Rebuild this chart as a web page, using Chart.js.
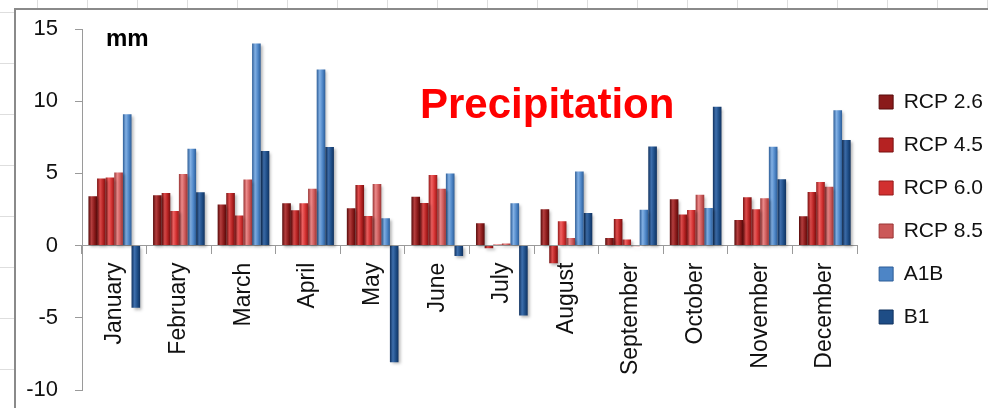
<!DOCTYPE html>
<html lang="en">
<head>
<meta charset="UTF-8">
<title>Precipitation</title>
<script src="https://cdn.jsdelivr.net/npm/chart.js@4.4.1/dist/chart.umd.min.js"></script>
<style>
    html, body { margin: 0; padding: 0; }
    body {
        width: 988px; height: 408px; overflow: hidden; position: relative;
        background-color: #fff;
        background-image: linear-gradient(to right, #dedede 1px, transparent 1px),
                          linear-gradient(to bottom, #dedede 1px, transparent 1px);
        background-size: 50px 51px;
        background-position: 37px 12px;
    }
    .frame {
        position: absolute; left: 14px; top: 8px; width: 1000px; height: 420px;
        background: #fff; border-left: 2px solid #8a8a8a; border-top: 2px solid #8a8a8a;
    }
    #wrap { position: absolute; left: 0; top: 0; width: 993px; height: 408px; }
</style>
</head>
<body>
<div class="frame"></div>
<div id="wrap"><canvas id="precip"></canvas></div>

<script>
// data (mm)
const months = ["January", "February", "March", "April", "May", "June",
                "July", "August", "September", "October", "November", "December"];
const rcp26 = [3.41, 3.48, 2.84, 2.93, 2.58, 3.39, 1.55, 2.51, 0.53, 3.21, 1.78, 2.03];
const rcp45 = [4.64, 3.64, 3.64, 2.45, 4.20, 2.95, -0.18, -1.22, 1.85, 2.15, 3.34, 3.71];
const rcp60 = [4.71, 2.40, 2.08, 2.93, 2.05, 4.89, 0.07, 1.68, 0.42, 2.47, 2.51, 4.41];
const rcp85 = [5.07, 4.96, 4.57, 3.94, 4.27, 3.94, 0.14, 0.53, -0.05, 3.53, 3.28, 4.08];
const a1b   = [9.09, 6.71, 14.0, 12.2, 1.89, 5.00, 2.93, 5.14, 2.49, 2.61, 6.85, 9.37];
const b1    = [-4.31, 3.69, 6.55, 6.83, -8.07, -0.72, -4.84, 2.26, 6.87, 9.62, 4.59, 7.31];
const yTicks = [-10, -5, 0, 5, 10, 15];

const catPct = 0.8;
const seriesCount = 6;

// colour sets: [base, light, dark]
const shades = [
    ["#8a1a1a", "#b43e3e", "#560a0a"],
    ["#b52222", "#de4c4c", "#781010"],
    ["#d23030", "#f06262", "#951a1a"],
    ["#cb5858", "#ec8a8a", "#9a3434"],
    ["#4d85c6", "#82b0e4", "#2d5d97"],
    ["#1e4d86", "#3e6fad", "#11325f"]
];

// cylinder-ish shading across each bar, placed through the x scale
function barFill(set) {
    return function (ctx) {
        const chart = ctx.chart;
        const xs = chart.scales.x;
        if (ctx.type !== 'data' || !xs || !xs.width) return set[0];
        const catW = xs.width / months.length;
        const barW = catW * catPct / seriesCount;
        const left = xs.getPixelForValue(ctx.dataIndex) - catW * catPct / 2 + ctx.datasetIndex * barW;
        const g = chart.ctx.createLinearGradient(left, 0, left + barW, 0);
        g.addColorStop(0, set[2]);
        g.addColorStop(0.35, set[1]);
        g.addColorStop(0.7, set[0]);
        g.addColorStop(1, set[2]);
        return g;
    };
}

const names = ["RCP 2.6", "RCP 4.5", "RCP 6.0", "RCP 8.5", "A1B", "B1"];
const series = [rcp26, rcp45, rcp60, rcp85, a1b, b1];

const datasets = series.map(function (vals, i) {
    return {
        label: names[i],
        data: vals,
        backgroundColor: barFill(shades[i]),
        borderWidth: 0,
        categoryPercentage: catPct,
        barPercentage: 1.0
    };
});

// soft drop shadow under the bars
const shadowPlugin = {
    id: 'shadowPlugin',
    beforeDatasetsDraw: function (chart) {
        const c = chart.ctx;
        c.save();
        c.shadowColor = 'rgba(0,0,0,0.28)';
        c.shadowOffsetX = 2;
        c.shadowOffsetY = 2;
        c.shadowBlur = 3;
    },
    afterDatasetsDraw: function (chart) {
        chart.ctx.restore();
    }
};

// title text drawn inside the plot
const textPlugin = {
    id: 'textPlugin',
    afterDraw: function (chart) {
        const c = chart.ctx;
        c.save();
        c.fillStyle = '#ff0000';
        c.font = 'bold 42px "Liberation Sans", Arial, sans-serif';
        c.textBaseline = 'alphabetic';
        c.textAlign = 'left';
        c.fillText('Precipitation', 420, 118);
        c.fillStyle = '#000';
        c.font = 'bold 24px "Liberation Sans", Arial, sans-serif';
        c.fillText('mm', 106, 46);
        c.restore();
    }
};

new Chart(document.getElementById('precip'), {
    type: 'bar',
    data: { labels: months, datasets: datasets },
    plugins: [shadowPlugin, textPlugin],
    options: {
        responsive: true,
        maintainAspectRatio: false,
        animation: false,
        layout: { padding: { top: 29, bottom: 18, left: 0, right: 0 } },
        plugins: {
            tooltip: { enabled: false },
            legend: {
                position: 'right',
                labels: {
                    boxWidth: 14,
                    boxHeight: 14,
                    padding: 22,
                    color: '#111',
                    font: { family: '"Liberation Sans", Arial, sans-serif', size: 21 },
                    generateLabels: function (chart) {
                        const items = Chart.defaults.plugins.legend.labels.generateLabels(chart);
                        items.forEach(function (it, i) {
                            it.fillStyle = shades[i][0];
                            it.strokeStyle = shades[i][2];
                            it.lineWidth = 1;
                        });
                        return items;
                    }
                }
            }
        },
        scales: {
            x: {
                position: { y: 0 },
                grid: { display: true, offset: true, drawOnChartArea: false, tickLength: 8, color: '#9a9a9a' },
                border: { display: true, color: '#9a9a9a', width: 1 },
                ticks: {
                    minRotation: 90, maxRotation: 90, autoSkip: false, padding: 9,
                    color: '#111',
                    font: { family: '"Liberation Sans", Arial, sans-serif', size: 23 }
                }
            },
            y: {
                min: yTicks[0],
                max: yTicks[yTicks.length - 1],
                afterFit: function (scale) {
                    scale.width = 82;
                    scale.paddingTop = 0;
                    scale.paddingBottom = 0;
                },
                afterBuildTicks: function (scale) {
                    scale.ticks = yTicks.map(function (v) { return { value: v }; });
                },
                grid: { drawOnChartArea: false, tickLength: 7, color: '#9a9a9a' },
                border: { display: true, color: '#9a9a9a', width: 1 },
                ticks: {
                    padding: 17,
                    color: '#111',
                    font: { family: '"Liberation Sans", Arial, sans-serif', size: 22 }
                }
            }
        }
    }
});
</script>
</body>
</html>
